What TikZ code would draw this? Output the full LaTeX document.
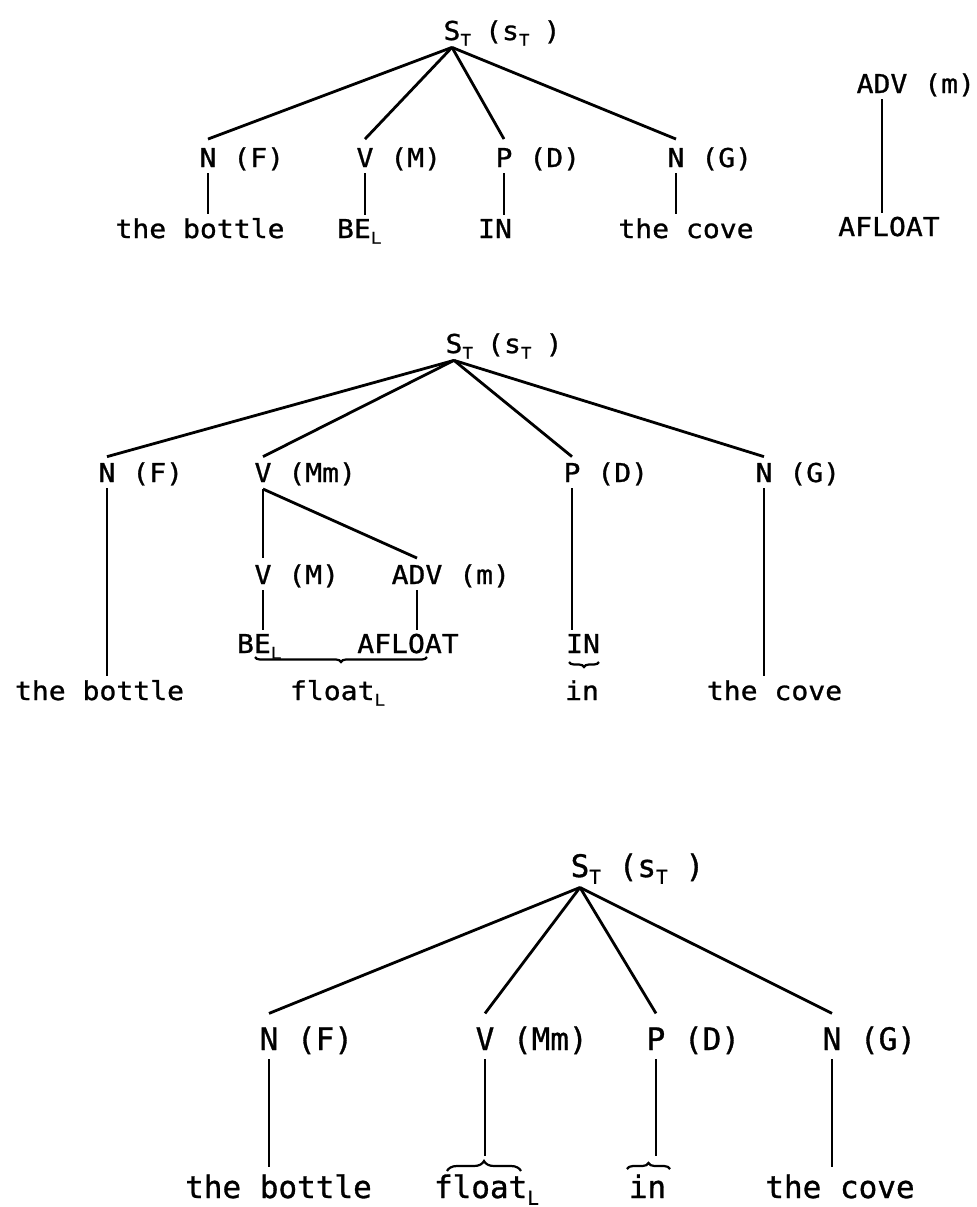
\documentclass[tikz,border=0pt]{standalone}
\usepackage{fontspec}
\usepackage{graphicx}
\usetikzlibrary{decorations.pathreplacing}
\newfontfamily\tfA[FakeStretch=1.08,FakeBold=1]{DejaVu Sans Mono}
\newfontfamily\tfB[FakeBold=1]{DejaVu Sans Mono}
\newcommand\sbs[1]{\raisebox{-0.22em}{\scalebox{0.62}{#1}}}
\newcommand\subsp[1]{\makebox[0.95em][l]{\sbs{#1}}}
\tikzset{
  ta/.style={font=\tfA\fontsize{13pt}{15pt}\selectfont, inner sep=0pt, outer sep=0pt},
  tb/.style={font=\tfB\fontsize{15.5pt}{18pt}\selectfont, inner sep=0pt, outer sep=0pt},
  hdA/.style={ta, anchor=base},
  hdB/.style={tb, anchor=base},
  featA/.style={ta, anchor=base west},
  featB/.style={tb, anchor=base west},
  edge/.style={line width=1.4pt},
  stemA/.style={edge, shorten <=3pt, shorten >=2pt},
  stemB/.style={edge, shorten <=4.5pt, shorten >=3.5pt},
  ubrace/.style={line width=1.1pt, decorate, decoration={brace, mirror, amplitude=2.5pt}},
  obrace/.style={line width=1.1pt, decorate, decoration={brace, amplitude=#1}},
}
\begin{document}
\begin{tikzpicture}[x=0.5pt,y=-0.5pt]
\useasboundingbox (0,0) rectangle (977,1207);

% ---------- tree 1 ----------
\node[hdA] (r1) at (452,40) {S};
\node[featA] (r1f) at (r1.base east) {\subsp{T}(s\subsp{T})};
\coordinate (ap1) at ([yshift=-3.5pt]r1.south);
\node[hdA] (n1) at (208,167) {N};
\node[featA] (n1f) at (n1.base east) {\ (F)};
\node[hdA] (v1) at (365,167) {V};
\node[featA] (v1f) at (v1.base east) {\ (M)};
\node[hdA] (p1) at (504,167) {P};
\node[featA] (p1f) at (p1.base east) {\ (D)};
\node[hdA] (g1) at (676,167) {N};
\node[featA] (g1f) at (g1.base east) {\ (G)};
\node[hdA] (l1a) at (200,238) {the bottle};
\node[featA] (l1b) at (337,238) {BE\sbs{L}};
\node[hdA] (l1c) at (495,238) {IN};
\node[hdA] (l1d) at (686,238) {the cove};
\node[hdA] (a1) at (882,93) {ADV};
\node[featA] (a1f) at (a1.base east) {\ (m)};
\node[hdA] (a1l) at (889,236) {AFLOAT};
\foreach \h in {n1,v1,p1,g1} \draw[edge] (ap1) -- ([yshift=4.5pt]\h.north);
\draw[stemA] (n1.south) -- (n1.south |- l1a.north);
\draw[stemA] (v1.south) -- (v1.south |- l1b.north);
\draw[stemA] (p1.south) -- (p1.south |- l1c.north);
\draw[stemA] (g1.south) -- (g1.south |- l1d.north);
\draw[stemA] (a1.south) -- (a1.south |- a1l.north);

% ---------- tree 2 ----------
\node[hdA] (r2) at (454,353) {S};
\node[featA] (r2f) at (r2.base east) {\subsp{T}(s\subsp{T})};
\coordinate (ap2) at ([yshift=-3.5pt]r2.south);
\node[hdA] (n2) at (107,482) {N};
\node[featA] (n2f) at (n2.base east) {\ (F)};
\node[hdA] (v2) at (263,482) {V};
\node[featA] (v2f) at (v2.base east) {\ (Mm)};
\node[hdA] (p2) at (572,482) {P};
\node[featA] (p2f) at (p2.base east) {\ (D)};
\node[hdA] (g2) at (764,482) {N};
\node[featA] (g2f) at (g2.base east) {\ (G)};
\foreach \h in {n2,v2,p2,g2} \draw[edge] (ap2) -- ([yshift=3.2pt]\h.north);
\node[hdA] (vm2) at (263,584) {V};
\node[featA] (vm2f) at (vm2.base east) {\ (M)};
\node[hdA] (adv2) at (417,584) {ADV};
\node[featA] (adv2f) at (adv2.base east) {\ (m)};
\coordinate (vb2) at ([yshift=-3.5pt]v2.south);
\draw[edge] (vb2) -- ([yshift=3.5pt]vm2.north);
\draw[edge] (vb2) -- ([yshift=3.5pt]adv2.north);
\node[featA] (be2) at (237,653) {BE\sbs{L}};
\node[hdA] (af2) at (408,653) {AFLOAT};
\node[hdA] (in2) at (583,653) {IN};
\draw[stemA] (vm2.south) -- (vm2.south |- be2.north);
\draw[stemA] (adv2.south) -- (adv2.south |- af2.north);
\node[hdA] (bot2) at (99.5,700) {the bottle};
\node[featA] (fl2) at (290,700) {float\sbs{L}};
\node[hdA] (inl2) at (582,700) {in};
\node[hdA] (cove2) at (774.5,700) {the cove};
\draw[stemA] (n2.south) -- (n2.south |- bot2.north);
\draw[stemA] (p2.south) -- (p2.south |- in2.north);
\draw[stemA] (g2.south) -- (g2.south |- cove2.north);
\draw[ubrace] (255,657) -- (427,657);
\draw[ubrace] (569,662) -- (599,662);

% ---------- tree 3 ----------
\node[hdB] (r3) at (580,877) {S};
\node[featB] (r3f) at (r3.base east) {\subsp{T}(s\subsp{T})};
\coordinate (ap3) at ([yshift=-5pt]r3.south);
\node[hdB] (n3) at (269,1050) {N};
\node[featB] (n3f) at (n3.base east) {\ (F)};
\node[hdB] (v3) at (485,1050) {V};
\node[featB] (v3f) at (v3.base east) {\ (Mm)};
\node[hdB] (p3) at (656,1050) {P};
\node[featB] (p3f) at (p3.base east) {\ (D)};
\node[hdB] (g3) at (832,1050) {N};
\node[featB] (g3f) at (g3.base east) {\ (G)};
\foreach \h in {n3,v3,p3,g3} \draw[edge] (ap3) -- ([yshift=7pt]\h.north);
\node[hdB] (bot3) at (278.5,1198) {the bottle};
\node[featB] (fl3) at (434,1198) {float\sbs{L}};
\node[hdB] (in3) at (647.5,1198) {in};
\node[hdB] (cove3) at (840,1198) {the cove};
\coordinate (bt3) at (485,1156);
\coordinate (bt4) at (656,1156);
\draw[stemB] (n3.south) -- (n3.south |- bot3.north);
\draw[edge, shorten <=4.5pt] (v3.south) -- (bt3);
\draw[edge, shorten <=4.5pt] (p3.south) -- (bt4);
\draw[stemB] (g3.south) -- (g3.south |- cove3.north);
\draw[obrace=5pt] (447,1171) -- (521,1171);
\draw[obrace=3pt] (627,1169) -- (670,1169);
\end{tikzpicture}
\end{document}
